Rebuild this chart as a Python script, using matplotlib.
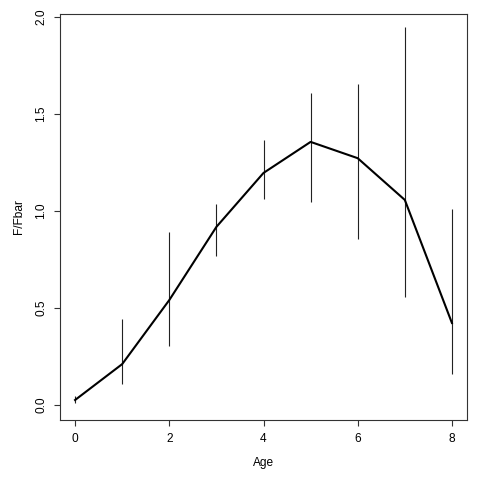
import matplotlib
matplotlib.use("Agg")
import matplotlib.pyplot as plt
import numpy as np

ages = [0, 1, 2, 3, 4, 5, 6, 7, 8]
f_fbar = [0.026, 0.211, 0.541, 0.918, 1.196, 1.356, 1.272, 1.057, 0.423]
upper = [0.045, 0.443, 0.892, 1.036, 1.366, 1.608, 1.655, 1.948, 1.010]
lower = [0.010, 0.108, 0.304, 0.768, 1.064, 1.046, 0.858, 0.557, 0.160]
xticks = [0, 2, 4, 6, 8]
yticks = [0.0, 0.5, 1.0, 1.5, 2.0]
ytick_labels = ["0.0", "0.5", "1.0", "1.5", "2.0"]

plt.rcParams['font.family'] = ['Liberation Sans', 'DejaVu Sans']

fig = plt.figure(figsize=(4.8, 4.8), dpi=100)
ax = fig.add_axes([60/480, 60/480, (467-60)/480, (420-14)/480])

ax.vlines(ages, lower, upper, colors='#222222', linewidth=0.8)
ax.plot(ages, f_fbar, color='black', linewidth=1.5)

ax.set_xlim(-0.32, 8.32)
ax.set_ylim(-0.077, 2.015)
ax.set_xticks(xticks)
ax.set_xticklabels([str(x) for x in xticks])
ax.set_yticks(yticks)
ax.set_yticklabels(ytick_labels, rotation=90, va='center')

for s in ax.spines.values():
    s.set_linewidth(0.8)
    s.set_color('#333333')

ax.tick_params(axis='both', direction='out', length=4.3, width=0.8,
               color='#333333', labelsize=8.6, pad=5)
ax.set_xlabel("Age", fontsize=8.6, labelpad=8.5)
ax.set_ylabel("F/Fbar", fontsize=8.6, labelpad=7)

fig.savefig("out.png", dpi=100)
